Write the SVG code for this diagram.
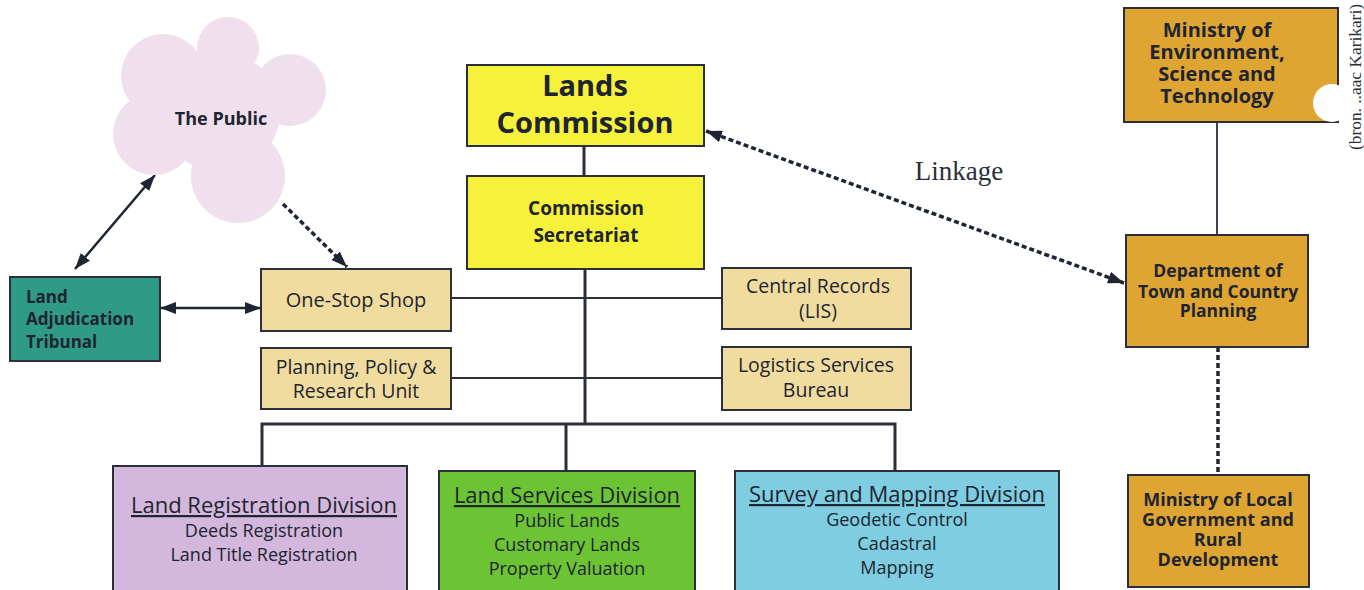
<svg xmlns="http://www.w3.org/2000/svg" width="1364" height="590" viewBox="0 0 1364 590">
<style>
.box{stroke:#2b2f3a;stroke-width:2}
.yel{fill:#f6f23c}
.bei{fill:#f1dc9f}
.org{fill:#dfa533}
text{font-family:"Open Sans","Noto Sans",sans-serif;fill:#1e2430}
.b{font-weight:bold}
.c{text-anchor:middle}
.ln{stroke:#2b2f3a;fill:none}
.dot{stroke:#1f2633;fill:none;stroke-width:3.5;stroke-dasharray:5 3}
.sol{stroke:#1f2633;fill:none;stroke-width:2.5}
</style>
<defs>
<marker id="ah" viewBox="0 0 16 12" refX="16" refY="6" markerWidth="16" markerHeight="12" markerUnits="userSpaceOnUse" orient="auto-start-reverse">
<path d="M0,0 L16,6 L0,12 z" fill="#1f2633"/>
</marker>
</defs>
<rect width="1364" height="590" fill="#ffffff"/>

<g id="connectors">
<line class="ln" x1="584" y1="146" x2="584" y2="176" stroke-width="3"/>
<line class="ln" x1="585" y1="269" x2="585" y2="425" stroke-width="3"/>
<line class="ln" x1="451" y1="298" x2="722" y2="298" stroke-width="1.8"/>
<line class="ln" x1="451" y1="378" x2="722" y2="378" stroke-width="1.8"/>
<polyline class="ln" points="262,466 262,424 895,424 895,471" stroke-width="3"/>
<line class="ln" x1="566" y1="424" x2="566" y2="471" stroke-width="3"/>
<line class="ln" x1="1217" y1="122" x2="1217" y2="235" stroke-width="1.8"/>
<line class="dot" x1="1218" y1="347" x2="1218" y2="475"/>
<line class="dot" x1="706" y1="131" x2="1124" y2="283" marker-start="url(#ah)" marker-end="url(#ah)"/>
<line class="dot" x1="283" y1="204" x2="347" y2="267" stroke-width="4" marker-end="url(#ah)"/>
<line class="sol" x1="155" y1="175" x2="75" y2="269" marker-start="url(#ah)" marker-end="url(#ah)"/>
<line class="sol" x1="160" y1="308" x2="261" y2="308" marker-start="url(#ah)" marker-end="url(#ah)"/>
<text x="959" y="180" class="c" style="font-family:'Liberation Serif','Times New Roman',serif;font-size:27px;fill:#2a2f3a">Linkage</text>
</g>

<g id="public">
<g fill="#f0e0ee">
<circle cx="228" cy="48" r="31"/>
<circle cx="163" cy="76" r="42"/>
<circle cx="290" cy="90" r="36"/>
<circle cx="154" cy="134" r="41"/>
<circle cx="238" cy="176" r="47"/>
<circle cx="220" cy="112" r="60"/>
</g>
<text x="221" y="125" class="b c" font-size="18">The Public</text>
</g>

<g id="tribunal">
<rect class="box" x="10" y="277" width="150" height="84" fill="#2f9a86"/>
<text class="b" font-size="17" x="26"><tspan x="26" y="303">Land</tspan><tspan x="26" y="325">Adjudication</tspan><tspan x="26" y="348">Tribunal</tspan></text>
</g>

<g id="lands-commission">
<rect class="box yel" x="467" y="65" width="237" height="81"/>
<text class="b c" font-size="29"><tspan x="585" y="96">Lands</tspan><tspan x="585" y="133">Commission</tspan></text>
</g>

<g id="secretariat">
<rect class="box yel" x="467" y="176" width="237" height="93"/>
<text class="b c" font-size="19"><tspan x="586" y="215">Commission</tspan><tspan x="586" y="242">Secretariat</tspan></text>
</g>

<g id="one-stop">
<rect class="box bei" x="261" y="269" width="190" height="62"/>
<text class="c" font-size="20" x="356" y="307">One-Stop Shop</text>
</g>

<g id="planning">
<rect class="box bei" x="261" y="348" width="190" height="61"/>
<text class="c" font-size="19.5"><tspan x="356" y="374">Planning, Policy &amp;</tspan><tspan x="356" y="398">Research Unit</tspan></text>
</g>

<g id="central-records">
<rect class="box bei" x="722" y="268" width="189" height="61"/>
<text class="c" font-size="19.5"><tspan x="818" y="293">Central Records</tspan><tspan x="818" y="318">(LIS)</tspan></text>
</g>

<g id="logistics">
<rect class="box bei" x="722" y="347" width="189" height="63"/>
<text class="c" font-size="19.5"><tspan x="816" y="372">Logistics Services</tspan><tspan x="816" y="397">Bureau</tspan></text>
</g>

<g id="land-registration">
<rect class="box" x="113" y="466" width="294" height="130" fill="#d3b7dc"/>
<text class="c" font-size="22" x="264" y="513" text-decoration="underline">Land Registration Division</text>
<text class="c" font-size="18"><tspan x="264" y="537">Deeds Registration</tspan><tspan x="264" y="561">Land Title Registration</tspan></text>
</g>

<g id="land-services">
<rect class="box" x="439" y="471" width="256" height="125" fill="#6cc434"/>
<text class="c" font-size="22" x="567" y="503" text-decoration="underline">Land Services Division</text>
<text class="c" font-size="18"><tspan x="567" y="527">Public Lands</tspan><tspan x="567" y="551">Customary Lands</tspan><tspan x="567" y="575">Property Valuation</tspan></text>
</g>

<g id="survey-mapping">
<rect class="box" x="735" y="471" width="324" height="125" fill="#7ecde0"/>
<text class="c" font-size="22" x="897" y="502" text-decoration="underline">Survey and Mapping Division</text>
<text class="c" font-size="18"><tspan x="897" y="526">Geodetic Control</tspan><tspan x="897" y="550">Cadastral</tspan><tspan x="897" y="574">Mapping</tspan></text>
</g>

<g id="ministry-environment">
<rect class="box org" x="1124" y="8" width="214" height="114"/>
<text class="b c" font-size="20"><tspan x="1217" y="37">Ministry of</tspan><tspan x="1217" y="59">Environment,</tspan><tspan x="1217" y="81">Science and</tspan><tspan x="1217" y="103">Technology</tspan></text>
<circle cx="1332" cy="103" r="19" fill="#ffffff"/>
</g>

<g id="dept-town-country">
<rect class="box org" x="1126" y="235" width="182" height="112"/>
<text class="b c" font-size="17.5"><tspan x="1218" y="277">Department of</tspan><tspan x="1218" y="298">Town and Country</tspan><tspan x="1218" y="317">Planning</tspan></text>
</g>

<g id="ministry-local">
<rect class="box org" x="1128" y="475" width="181" height="112"/>
<text class="b c" font-size="18"><tspan x="1218" y="506">Ministry of Local</tspan><tspan x="1218" y="526">Government and</tspan><tspan x="1218" y="546">Rural</tspan><tspan x="1218" y="566">Development</tspan></text>
</g>

<text transform="translate(1361,77) rotate(-90)" class="c" textLength="146" lengthAdjust="spacingAndGlyphs" style="font-family:'Liberation Serif','Times New Roman',serif;font-size:17px;fill:#2a2f3a">(bron. ..aac Karikari)</text>
</svg>
